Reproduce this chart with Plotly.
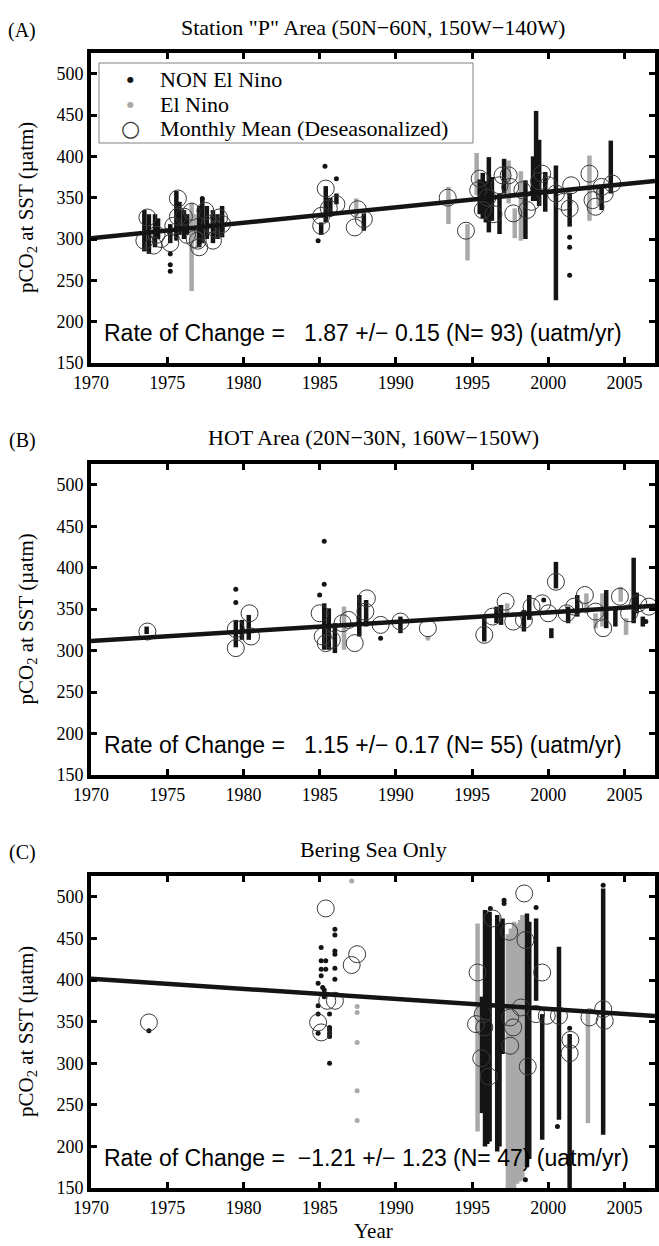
import plotly.graph_objects as go

W, H = 659, 1246

# ---------------- axes / labels ----------------
YEAR_RANGE = [1970, 2007]
PCO2_RANGE = [150, 525]
X_TICKS = [1970, 1975, 1980, 1985, 1990, 1995, 2000, 2005]
Y_TICKS = [150, 200, 250, 300, 350, 400, 450, 500]

PANEL_LETTERS = ["(A)", "(B)", "(C)"]
PANEL_TITLES = ['Station "P" Area (50N\u221260N, 150W\u2212140W)',
                "HOT Area (20N\u221230N, 160W\u2212150W)",
                "Bering Sea Only"]
RATE = [1.87, 1.15, -1.21]
RATE_ERR = [0.15, 0.17, 1.23]
N_MONTHS = [93, 55, 47]
TREND_AT_1970 = [301.0, 311.5, 401.5]
LEGEND_LABELS = ["NON El Nino", "El Nino", "Monthly Mean (Deseasonalized)"]

# ---------------- Panel A data ----------------
# streaks of dense observations: (year, low, high)
A_NON_STREAKS = [(1973.5, 285, 335), (1973.8, 282, 330), (1974.2, 290, 330), (1974.4, 300, 325),
                 (1975.2, 295, 318), (1975.6, 298, 358), (1975.8, 305, 345), (1976.1, 300, 335),
                 (1976.3, 305, 330), (1977.1, 290, 340), (1977.3, 295, 349), (1977.6, 300, 340),
                 (1978.0, 295, 335), (1978.3, 300, 330), (1978.6, 302, 340),
                 (1985.1, 305, 320), (1985.4, 320, 364), (1985.7, 330, 350), (1986.1, 342, 355),
                 (1987.9, 310, 331),
                 (1995.5, 330, 372), (1995.7, 325, 380), (1995.9, 320, 370), (1996.1, 308, 399),
                 (1996.3, 322, 375), (1996.8, 306, 355), (1997.1, 355, 397), (1998.5, 300, 371),
                 (1999.0, 346, 400), (1999.2, 346, 455), (1999.4, 340, 420), (1999.8, 333, 381),
                 (2000.5, 226, 389), (2001.4, 315, 356), (2003.5, 335, 362), (2004.1, 355, 419)]
A_NINO_STREAKS = [(1976.6, 237, 344), (1976.9, 300, 330), (1977.0, 290, 320), (1987.4, 327, 349),
                  (1993.45, 318, 363), (1994.7, 274, 318), (1995.3, 353, 404), (1997.4, 343, 395),
                  (1997.8, 301, 337), (1998.2, 298, 382), (2002.7, 322, 401), (2003.3, 340, 365)]
A_NON_DOTS_X = [1975.2, 1975.2, 1975.2, 1977.3, 1984.9, 1985.35, 1986.1, 2001.4, 2001.4, 2001.4]
A_NON_DOTS_Y = [282, 269, 261, 349, 298, 388, 373, 302, 290, 256]
A_MEAN_X = [1973.5, 1973.7, 1974.1, 1974.3, 1974.6, 1975.2, 1975.4, 1975.7, 1975.7, 1976.1,
            1976.3, 1976.6, 1976.8, 1977.0, 1977.1, 1977.5, 1977.8, 1978.0, 1978.2, 1978.4,
            1978.6, 1985.1, 1985.1, 1985.4, 1985.6, 1986.1, 1987.3, 1987.5, 1987.9,
            1993.4, 1994.6, 1995.4, 1995.5, 1995.7, 1996.0, 1996.4, 1996.8, 1997.0, 1997.4,
            1997.5, 1997.7, 1998.3, 1998.6, 1998.9, 1999.4, 1999.6, 2000.0, 2000.5, 2001.0,
            2001.4, 2001.5, 2002.7, 2002.9, 2003.1, 2003.5, 2003.7, 2004.2]
A_MEAN_Y = [298, 326, 292, 305, 300, 295, 316, 327, 349, 327,
            305, 333, 300, 298, 290, 334, 318, 298, 312, 326,
            318, 316, 328, 361, 337, 342, 314, 336, 324,
            350, 310, 359, 373, 335, 350, 330, 365, 377, 377,
            363, 331, 359, 335, 345, 370, 379, 365, 355, 345,
            337, 365, 379, 347, 339, 363, 355, 367]

# ---------------- Panel B data ----------------
B_NON_STREAKS = [(1973.65, 320, 329), (1979.5, 304, 337), (1979.9, 313, 337), (1980.35, 313, 343),
                 (1985.3, 301, 357), (1985.6, 301, 351), (1986.0, 297, 333), (1987.6, 317, 367),
                 (1988.05, 329, 361), (1990.3, 321, 341), (1995.8, 311, 339), (1996.6, 333, 353),
                 (1996.9, 331, 355), (1998.4, 323, 349), (1998.75, 337, 367), (2000.2, 315, 327),
                 (2000.5, 375, 407), (2001.3, 333, 353), (2001.9, 341, 367), (2003.8, 327, 373),
                 (2004.4, 329, 349), (2005.6, 333, 412), (2005.8, 345, 370), (2006.2, 329, 341)]
B_NINO_STREAKS = [(1986.6, 301, 353), (1997.3, 345, 357), (2002.5, 345, 369), (2003.1, 327, 345),
                  (2003.55, 329, 369), (2004.75, 359, 377), (2005.1, 319, 339)]
B_NON_DOTS_X = [1979.5, 1979.5, 1985.0, 1985.3, 1985.3, 1989.0, 1999.7, 2006.4]
B_NON_DOTS_Y = [374, 358, 367, 432, 380, 315, 361, 335]
B_NINO_DOTS_X = [1992.1]
B_NINO_DOTS_Y = [315]
B_MEAN_X = [1973.7, 1979.5, 1979.5, 1980.4, 1980.5, 1985.0, 1985.2, 1985.4, 1985.8, 1986.5,
            1986.9, 1987.3, 1988.0, 1988.1, 1989.0, 1990.3, 1992.1, 1995.8, 1996.35, 1997.2,
            1997.7, 1998.4, 1998.9, 1999.6, 2000.0, 2000.5, 2001.2, 2001.7, 2002.4, 2003.1,
            2003.6, 2004.7, 2005.3, 2005.9, 2006.6]
B_MEAN_Y = [323, 303, 326, 345, 317, 345, 317, 309, 313, 333,
            337, 309, 347, 363, 331, 335, 327, 319, 341, 359,
            335, 337, 353, 357, 345, 383, 345, 353, 367, 347,
            327, 365, 345, 357, 353]

# ---------------- Panel C data ----------------
C_NON_STREAKS = [(1995.65, 240, 380), (1995.85, 200, 484), (1996.0, 203, 480), (1996.15, 206, 482),
                 (1996.65, 194, 478), (1996.8, 200, 470), (1997.0, 311, 474),
                 (1998.6, 175, 480), (1998.75, 185, 470), (1999.2, 375, 474), (1999.6, 208, 359),
                 (2000.7, 232, 440), (2001.4, 150, 335), (2003.6, 214, 510)]
C_NINO_STREAKS = [(1995.36, 218, 468), (1997.35, 150, 455), (1997.55, 150, 462), (1997.75, 150, 470),
                  (1997.95, 155, 468), (1998.15, 158, 472), (1998.3, 160, 478), (2002.6, 228, 362)]
C_NON_DOTS_X = [1973.8, 1984.9, 1984.9, 1984.9, 1984.9, 1985.1, 1985.1, 1985.1, 1985.1, 1985.2,
                1985.3, 1985.3, 1985.4, 1985.4, 1985.65, 1985.65, 1985.65, 1985.65, 1985.65,
                1985.65, 1986.0, 1986.0, 1986.0, 1986.0, 1986.0, 1986.0,
                1996.2, 1997.1, 1997.1, 1998.65, 1998.65, 1998.5, 1999.2, 2000.6, 2001.4, 2003.6]
C_NON_DOTS_Y = [339, 396, 369, 359, 336, 439, 423, 413, 405, 391,
                388, 380, 423, 413, 359, 343, 340, 336, 332,
                300, 461, 454, 435, 431, 414, 401,
                486, 496, 492, 418, 406, 160, 487, 224, 342, 514]
C_NINO_DOTS_X = [1987.1, 1987.46, 1987.46, 1987.46, 1987.46, 1987.46]
C_NINO_DOTS_Y = [519, 368, 361, 325, 267, 231]
C_MEAN_X = [1973.8, 1984.9, 1985.1, 1985.4, 1985.5, 1986.0, 1987.1, 1987.46,
            1995.26, 1995.36, 1995.6, 1995.7, 1995.8, 1996.1, 1996.35, 1997.44, 1997.5, 1997.5,
            1997.7, 1998.2, 1998.42, 1998.5, 1998.65, 1999.2, 1999.6, 1999.9, 2000.7, 2001.4,
            2001.45, 2002.7, 2003.6, 2003.7]
C_MEAN_Y = [349, 349, 337, 486, 375, 375, 418, 431,
            347, 409, 306, 359, 343, 284, 474, 458, 355, 321,
            343, 367, 504, 448, 296, 359, 409, 357, 357, 312,
            328, 355, 365, 351]

PANELS = [
    dict(non_streaks=A_NON_STREAKS, nino_streaks=A_NINO_STREAKS,
         non_dx=A_NON_DOTS_X, non_dy=A_NON_DOTS_Y, nino_dx=[], nino_dy=[],
         mean_x=A_MEAN_X, mean_y=A_MEAN_Y),
    dict(non_streaks=B_NON_STREAKS, nino_streaks=B_NINO_STREAKS,
         non_dx=B_NON_DOTS_X, non_dy=B_NON_DOTS_Y, nino_dx=B_NINO_DOTS_X, nino_dy=B_NINO_DOTS_Y,
         mean_x=B_MEAN_X, mean_y=B_MEAN_Y),
    dict(non_streaks=C_NON_STREAKS, nino_streaks=C_NINO_STREAKS,
         non_dx=C_NON_DOTS_X, non_dy=C_NON_DOTS_Y, nino_dx=C_NINO_DOTS_X, nino_dy=C_NINO_DOTS_Y,
         mean_x=C_MEAN_X, mean_y=C_MEAN_Y),
]

# ---------------- layout geometry (pixels) ----------------
PLOT_LEFT, PLOT_RIGHT = 91, 655
PANEL_PIX = [(53, 363), (464, 775), (876, 1188)]
TITLE_Y = [27, 438, 849]
LEG_BOX = (99, 63, 473, 143)          # left, top, right, bottom
LEG_ROWS = [80, 104, 128]
LEG_SYM_X, LEG_TXT_X = 130, 158

SERIF = "Liberation Serif, Times New Roman, serif"
SANS = "Liberation Sans, Arial, sans-serif"
BLACK = "#141414"
GREY = "#a9a9a9"
CIRC = "#3a3a3a"


def px(xp):
    return xp / W


def py(yp):
    return 1 - yp / H


def segs(streaks):
    xs, ys = [], []
    for x, lo, hi in streaks:
        xs += [x, x, None]
        ys += [lo, hi, None]
    return xs, ys


fig = go.Figure()
annotations = []

for i, p in enumerate(PANELS):
    sfx = "" if i == 0 else str(i + 1)
    xa, ya = "x" + sfx, "y" + sfx

    gx, gy = segs(p["nino_streaks"])
    fig.add_trace(go.Scatter(x=gx, y=gy, mode="lines", line=dict(color=GREY, width=4.5),
                             xaxis=xa, yaxis=ya, showlegend=False, hoverinfo="skip"))
    bx, by = segs(p["non_streaks"])
    fig.add_trace(go.Scatter(x=bx, y=by, mode="lines", line=dict(color=BLACK, width=4.5),
                             xaxis=xa, yaxis=ya, showlegend=False, hoverinfo="skip"))
    fig.add_trace(go.Scatter(x=p["nino_dx"], y=p["nino_dy"], mode="markers",
                             marker=dict(color=GREY, size=5), name="El Nino",
                             showlegend=False, xaxis=xa, yaxis=ya))
    fig.add_trace(go.Scatter(x=p["non_dx"], y=p["non_dy"], mode="markers",
                             marker=dict(color=BLACK, size=5), name="NON El Nino",
                             showlegend=False, xaxis=xa, yaxis=ya))
    fig.add_trace(go.Scatter(x=p["mean_x"], y=p["mean_y"], mode="markers",
                             marker=dict(symbol="circle-open", size=17,
                                         color=CIRC, line=dict(width=1)),
                             name="Monthly Mean (Deseasonalized)",
                             showlegend=False, xaxis=xa, yaxis=ya))
    # regression line from the stated rate
    tx = YEAR_RANGE
    ty = [TREND_AT_1970[i] + RATE[i] * (t - 1970) for t in tx]
    fig.add_trace(go.Scatter(x=tx, y=ty, mode="lines", line=dict(color=BLACK, width=4.5),
                             xaxis=xa, yaxis=ya, showlegend=False, hoverinfo="skip"))

    top, bot = PANEL_PIX[i]
    axis_common = dict(showline=True, linecolor="black", linewidth=4, mirror="allticks",
                       ticks="inside", ticklen=6, tickwidth=3, tickcolor="black",
                       showgrid=False, zeroline=False, automargin=False,
                       tickfont=dict(family=SERIF, size=18, color="black"))
    fig.layout["xaxis" + sfx] = dict(domain=[px(PLOT_LEFT), px(PLOT_RIGHT)], range=YEAR_RANGE,
                                     tickvals=X_TICKS, anchor=ya, **axis_common)
    fig.layout["yaxis" + sfx] = dict(domain=[py(bot), py(top)], range=PCO2_RANGE,
                                     tickvals=Y_TICKS, anchor=xa, **axis_common)

    annotations.append(dict(x=px((PLOT_LEFT + PLOT_RIGHT) / 2), y=py(TITLE_Y[i]), xref="paper",
                            yref="paper", text=PANEL_TITLES[i], showarrow=False,
                            font=dict(family=SERIF, size=22, color="black"),
                            xanchor="center", yanchor="middle"))
    annotations.append(dict(x=px(22), y=py(TITLE_Y[i] + 3), xref="paper", yref="paper",
                            text=PANEL_LETTERS[i], showarrow=False,
                            font=dict(family=SERIF, size=20, color="black"),
                            xanchor="center", yanchor="middle"))
    annotations.append(dict(x=px(27), y=py((top + bot) / 2), xref="paper", yref="paper",
                            text="pCO<sub>2</sub> at SST (\u00b5atm)", showarrow=False,
                            textangle=-90, font=dict(family=SERIF, size=21, color="black"),
                            xanchor="center", yanchor="middle"))
    rate_txt = "Rate of Change = {:6.2f} +/\u2212 {:.2f} (N= {}) (uatm/yr)".format(
        RATE[i], RATE_ERR[i], N_MONTHS[i]).replace("-", "\u2212").replace(" ", "\u00a0")
    annotations.append(dict(x=1970.7, y=186, xref=xa, yref=ya, text=rate_txt, showarrow=False,
                            font=dict(family=SANS, size=23, color="black"),
                            xanchor="left", yanchor="middle"))

annotations.append(dict(x=px((PLOT_LEFT + PLOT_RIGHT) / 2), y=py(1231), xref="paper",
                        yref="paper", text="Year", showarrow=False,
                        font=dict(family=SERIF, size=21, color="black"),
                        xanchor="center", yanchor="middle"))

# legend (panel A): symbols and labels as text inside a framed box
LEG_SYMBOLS = [("\u25cf", BLACK, 8), ("\u25cf", GREY, 8), ("\u25cb", CIRC, 22)]
for (sym, col, size), label, row in zip(LEG_SYMBOLS, LEGEND_LABELS, LEG_ROWS):
    annotations.append(dict(x=px(LEG_SYM_X), y=py(row), xref="paper", yref="paper", text=sym,
                            showarrow=False, font=dict(family="DejaVu Sans", size=size, color=col),
                            xanchor="center", yanchor="middle"))
    annotations.append(dict(x=px(LEG_TXT_X), y=py(row), xref="paper", yref="paper", text=label,
                            showarrow=False, font=dict(family=SERIF, size=22, color="black"),
                            xanchor="left", yanchor="middle"))

shapes = [dict(type="rect", xref="paper", yref="paper",
               x0=px(LEG_BOX[0]), x1=px(LEG_BOX[2]), y0=py(LEG_BOX[3]), y1=py(LEG_BOX[1]),
               line=dict(color="#808080", width=1), fillcolor="white", layer="above")]

fig.update_layout(
    width=W, height=H,
    margin=dict(l=0, r=0, t=0, b=0, autoexpand=False),
    paper_bgcolor="white", plot_bgcolor="white",
    annotations=annotations, shapes=shapes,
    showlegend=False,
)

# remove the browser's default page margin so the figure sits flush in the window
fig.write_html("out.html", config={"displayModeBar": False},
               post_script="document.body.style.margin='0';")
